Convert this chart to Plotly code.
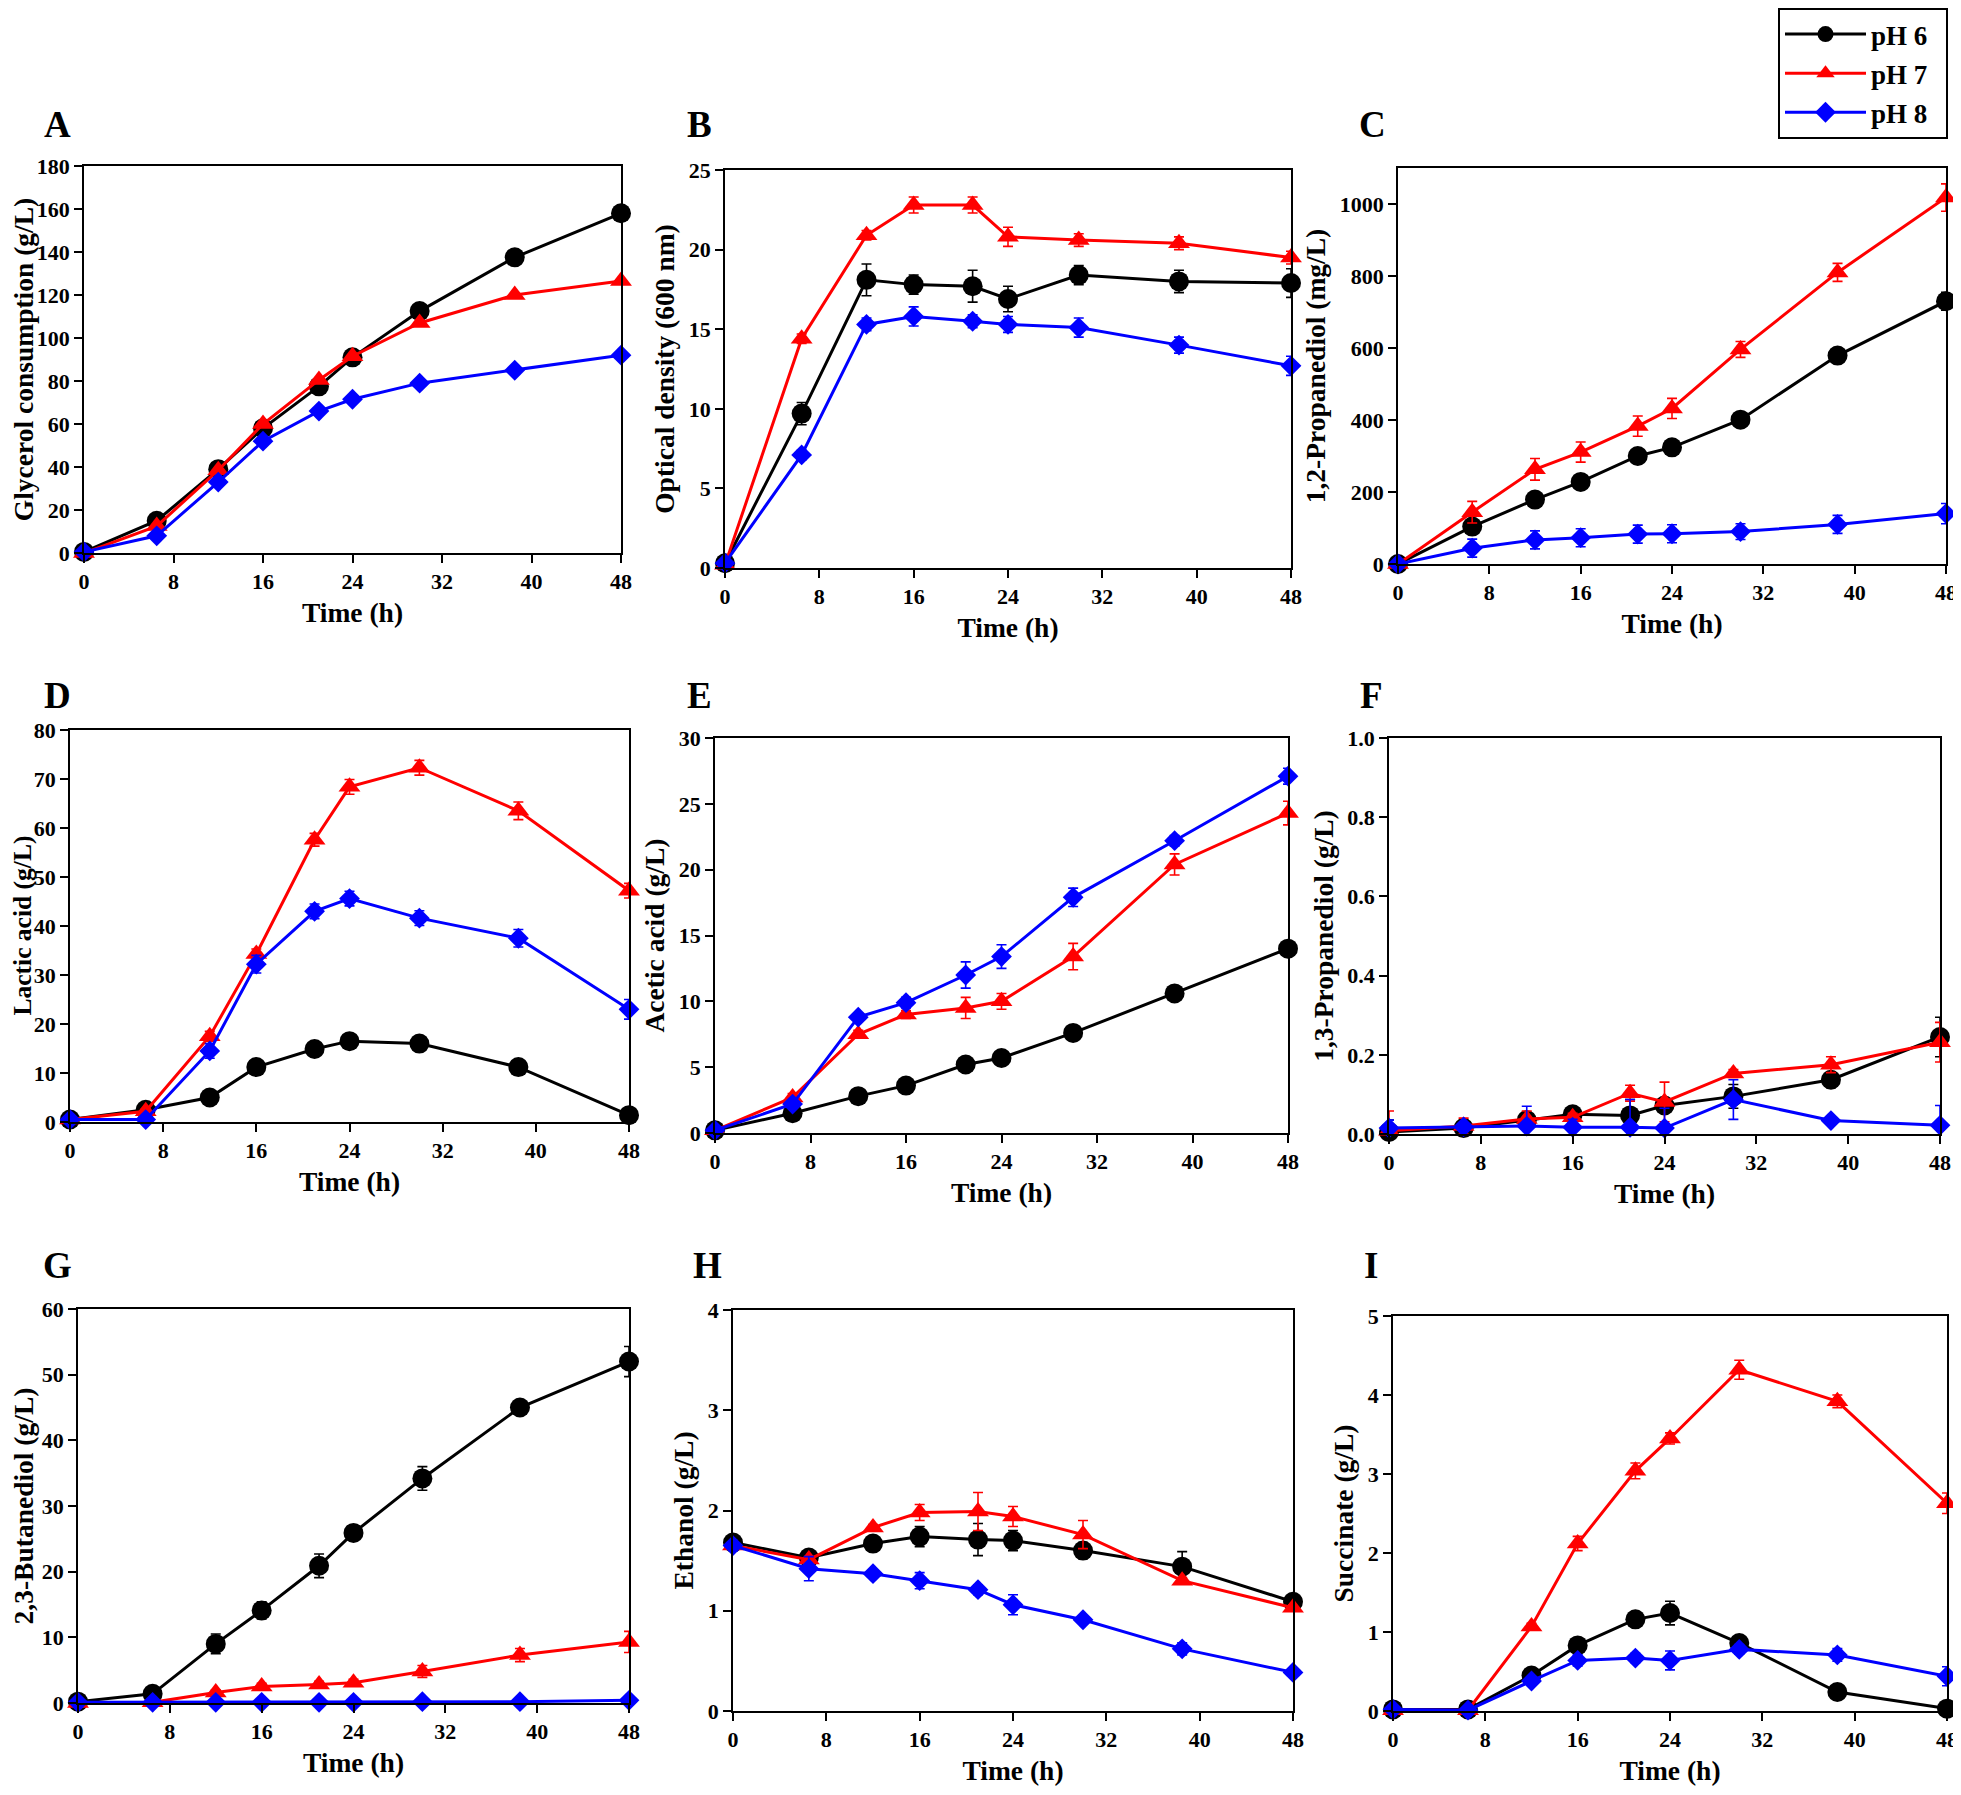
import plotly.graph_objects as go

# The page body has an 8px default margin, so the figure is drawn 8px in from the
# window's top-left corner; positions below are given in window pixels.
WIN_W, WIN_H = 1961, 1795
OFF = 8
W, H = WIN_W - OFF, WIN_H - OFF


def px_x(x):
    return (x - OFF) / W


def px_y(y):
    return 1 - (y - OFF) / H


time_h = [0, 6.5, 12, 16, 21, 24, 30, 38.5, 48]
series_names = ["pH 6", "pH 7", "pH 8"]
x_ticks = [0, 8, 16, 24, 32, 40, 48]

# A: glycerol consumption (g/L)
glyc_ph6 = [0.5, 15, 39, 58, 77.5, 91, 112.5, 137.5, 158]
glyc_ph7 = [0, 12.5, 38.5, 60, 80.5, 91.5, 107, 120, 126.5]
glyc_ph8 = [0.5, 8, 33, 52, 66, 71.5, 79, 85, 92]
glyc_err = [0, 0, 0, 0, 0, 0, 0, 0, 0]

# B: optical density
od_ph6 = [0.3, 9.7, 18.1, 17.8, 17.7, 16.9, 18.4, 18.0, 17.9]
od_ph6_err = [0.1, 0.7, 1.0, 0.6, 1.0, 0.8, 0.6, 0.7, 0.9]
od_ph7 = [0.2, 14.4, 20.9, 22.8, 22.8, 20.8, 20.6, 20.4, 19.5]
od_ph7_err = [0.1, 0.3, 0.3, 0.5, 0.5, 0.6, 0.4, 0.4, 0.4]
od_ph8 = [0.3, 7.1, 15.3, 15.8, 15.5, 15.3, 15.1, 14.0, 12.7]
od_ph8_err = [0.1, 0.3, 0.4, 0.6, 0.4, 0.5, 0.6, 0.5, 0.6]

# C: 1,2-propanediol (mg/L)
pdo12_ph6 = [0, 104, 179, 228, 300, 324, 401, 579, 730]
pdo12_ph6_err = [5, 20, 15, 15, 15, 15, 20, 20, 25]
pdo12_ph7 = [0, 144, 263, 311, 383, 432, 596, 810, 1018]
pdo12_ph7_err = [5, 30, 30, 28, 28, 28, 22, 25, 38]
pdo12_ph8 = [0, 44, 67, 73, 83, 84, 90, 110, 140]
pdo12_ph8_err = [5, 25, 25, 25, 25, 25, 22, 25, 28]

# D: lactic acid (g/L)
lac_ph6 = [0.5, 2.5, 5.0, 11.2, 14.9, 16.5, 16.0, 11.2, 1.4]
lac_ph6_err = [0.2, 0.2, 0.3, 0.3, 0.3, 0.3, 0.3, 0.3, 0.2]
lac_ph7 = [0.5, 2.2, 17.5, 34.3, 57.6, 68.4, 72.3, 63.5, 47.2]
lac_ph7_err = [0.3, 0.5, 1.0, 1.0, 1.3, 1.5, 1.5, 1.8, 1.5]
lac_ph8 = [0.5, 0.5, 14.5, 32.2, 43.0, 45.6, 41.6, 37.5, 23.0]
lac_ph8_err = [0.3, 0.3, 1.5, 1.8, 1.5, 1.5, 1.5, 1.8, 2.0]

# E: acetic acid (g/L)
ace_ph6 = [0.2, 1.5, 2.8, 3.6, 5.2, 5.7, 7.6, 10.6, 14.0]
ace_ph6_err = [0.1, 0.1, 0.1, 0.1, 0.1, 0.1, 0.2, 0.5, 0.2]
ace_ph7 = [0.2, 2.7, 7.5, 9.0, 9.5, 10.0, 13.4, 20.4, 24.3]
ace_ph7_err = [0.1, 0.3, 0.3, 0.3, 0.8, 0.6, 1.0, 0.8, 0.9]
ace_ph8 = [0.2, 2.2, 8.8, 9.9, 12.0, 13.4, 17.9, 22.2, 27.1]
ace_ph8_err = [0.1, 0.3, 0.3, 0.4, 1.0, 0.9, 0.7, 0.4, 0.6]

# F: 1,3-propanediol (g/L)
pdo13_ph6 = [0.005, 0.015, 0.035, 0.05, 0.047, 0.072, 0.095, 0.137, 0.245]
pdo13_ph6_err = [0.03, 0.02, 0.02, 0.01, 0.04, 0.01, 0.03, 0.02, 0.05]
pdo13_ph7 = [0.008, 0.02, 0.038, 0.042, 0.103, 0.081, 0.153, 0.175, 0.232]
pdo13_ph7_err = [0.05, 0.02, 0.02, 0.01, 0.02, 0.05, 0.01, 0.02, 0.05]
pdo13_ph8 = [0.015, 0.018, 0.02, 0.017, 0.017, 0.015, 0.087, 0.034, 0.022]
pdo13_ph8_err = [0.02, 0.01, 0.05, 0.02, 0.07, 0.05, 0.05, 0.01, 0.05]

# G: 2,3-butanediol (g/L)
bdo_ph6 = [0.2, 1.4, 9.0, 14.1, 20.9, 25.9, 34.2, 45.0, 52.0]
bdo_ph6_err = [0.1, 0.3, 1.5, 1.3, 1.8, 0.8, 1.8, 0.8, 2.3]
bdo_ph7 = [0, 0.1, 1.6, 2.5, 2.8, 3.1, 4.8, 7.3, 9.3]
bdo_ph7_err = [0, 0, 0.4, 0.5, 0.5, 0.5, 0.9, 1.0, 1.6]
bdo_ph8 = [0.1, 0.1, 0.1, 0.1, 0.1, 0.1, 0.2, 0.2, 0.4]
bdo_ph8_err = [0, 0, 0, 0, 0, 0, 0, 0, 0.1]

# H: ethanol (g/L)
eth_ph6 = [1.68, 1.53, 1.67, 1.74, 1.71, 1.70, 1.60, 1.44, 1.09]
eth_ph6_err = [0.06, 0.06, 0.03, 0.1, 0.16, 0.1, 0.08, 0.15, 0.05]
eth_ph7 = [1.65, 1.51, 1.83, 1.98, 1.99, 1.94, 1.76, 1.30, 1.03]
eth_ph7_err = [0.04, 0.03, 0.03, 0.08, 0.19, 0.1, 0.14, 0.03, 0.03]
eth_ph8 = [1.65, 1.42, 1.37, 1.30, 1.21, 1.06, 0.91, 0.62, 0.385]
eth_ph8_err = [0.05, 0.12, 0.03, 0.08, 0.05, 0.1, 0.03, 0.06, 0.03]

# I: succinate (g/L)
suc_ph6 = [0.02, 0.02, 0.45, 0.83, 1.16, 1.24, 0.86, 0.24, 0.03]
suc_ph6_err = [0, 0, 0.03, 0.05, 0.05, 0.15, 0.05, 0.03, 0.02]
suc_ph7 = [0.01, 0.01, 1.07, 2.12, 3.04, 3.45, 4.32, 3.92, 2.63]
suc_ph7_err = [0, 0, 0.04, 0.09, 0.1, 0.07, 0.12, 0.08, 0.13]
suc_ph8 = [0.02, 0.01, 0.38, 0.64, 0.67, 0.64, 0.78, 0.71, 0.44]
suc_ph8_err = [0, 0, 0.04, 0.07, 0.06, 0.12, 0.06, 0.08, 0.12]

panels = [
    # letter, ytitle, series, errors, yrange, ytickvals, tickformat, box (L, R, T, B) px,
    # letter centre (x, y) px, y-title centre x px (None = automatic axis title)
    ("A", "Glycerol consumption (g/L)", [glyc_ph6, glyc_ph7, glyc_ph8], [glyc_err, glyc_err, glyc_err],
     [0, 180], list(range(0, 181, 20)), None, (84, 621, 166, 553), (57, 125), None),
    ("B", "Optical density (600 nm)", [od_ph6, od_ph7, od_ph8], [od_ph6_err, od_ph7_err, od_ph8_err],
     [0, 25], list(range(0, 26, 5)), None, (725, 1291, 170, 568), (699, 125), None),
    ("C", "1,2-Propanediol (mg/L)", [pdo12_ph6, pdo12_ph7, pdo12_ph8], [pdo12_ph6_err, pdo12_ph7_err, pdo12_ph8_err],
     [0, 1100], list(range(0, 1001, 200)), None, (1398, 1946, 168, 564), (1372, 125), None),
    ("D", "Lactic acid (g/L)", [lac_ph6, lac_ph7, lac_ph8], [lac_ph6_err, lac_ph7_err, lac_ph8_err],
     [0, 80], list(range(0, 81, 10)), None, (70, 629, 730, 1122), (57, 695), 22.5),
    ("E", "Acetic acid (g/L)", [ace_ph6, ace_ph7, ace_ph8], [ace_ph6_err, ace_ph7_err, ace_ph8_err],
     [0, 30], list(range(0, 31, 5)), None, (715, 1288, 738, 1133), (699, 695), None),
    ("F", "1,3-Propanediol (g/L)", [pdo13_ph6, pdo13_ph7, pdo13_ph8], [pdo13_ph6_err, pdo13_ph7_err, pdo13_ph8_err],
     [0, 1.0], [0, 0.2, 0.4, 0.6, 0.8, 1.0], ".1f", (1389, 1940, 738, 1134), (1371, 695), None),
    ("G", "2,3-Butanediol (g/L)", [bdo_ph6, bdo_ph7, bdo_ph8], [bdo_ph6_err, bdo_ph7_err, bdo_ph8_err],
     [0, 60], list(range(0, 61, 10)), None, (78, 629, 1309, 1703), (57, 1265), None),
    ("H", "Ethanol (g/L)", [eth_ph6, eth_ph7, eth_ph8], [eth_ph6_err, eth_ph7_err, eth_ph8_err],
     [0, 4], [0, 1, 2, 3, 4], None, (733, 1293, 1310, 1711), (707, 1265), None),
    ("I", "Succinate (g/L)", [suc_ph6, suc_ph7, suc_ph8], [suc_ph6_err, suc_ph7_err, suc_ph8_err],
     [0, 5], [0, 1, 2, 3, 4, 5], None, (1393, 1947, 1316, 1711), (1371, 1265), None),
]

colors = ["#000000", "#ff0000", "#0000ff"]
symbols = ["circle", "triangle-up", "diamond"]
msizes = [20, 19, 16]
FONT = "Liberation Serif, Times New Roman, serif"
TITLE_FONT = dict(family=FONT, size=27.5, color="black", weight="bold")

fig = go.Figure()
layout = dict(
    width=W, height=H,
    margin=dict(l=0, r=0, t=0, b=0),
    paper_bgcolor="white", plot_bgcolor="white",
    font=dict(family=FONT, size=22, color="black", weight="bold"),
    showlegend=True,
    legend=dict(
        x=px_x(1778), y=1.0, xanchor="left", yanchor="top",
        bordercolor="black", borderwidth=2, bgcolor="white",
        font=dict(family=FONT, size=27, color="black", weight="bold"),
        itemwidth=81, tracegroupgap=1,
    ),
    annotations=[],
)

for i, (letter, ytitle, series, errs, yr, ytv, tfmt, box, lpos, ytx) in enumerate(panels):
    L, R, T, B = box
    n = "" if i == 0 else str(i + 1)
    xa, ya = "x" + n, "y" + n
    for k in range(3):
        fig.add_trace(go.Scatter(
            x=time_h, y=series[k], xaxis=xa, yaxis=ya,
            mode="lines+markers", name=series_names[k] + "\u00a0\u00a0",
            legendgroup=series_names[k], showlegend=(i == 0),
            line=dict(color=colors[k], width=3),
            marker=dict(symbol=symbols[k], size=msizes[k], color=colors[k],
                        line=dict(width=0)),
            error_y=dict(type="data", array=errs[k], color=colors[k],
                         thickness=1.6, width=5),
            cliponaxis=False,
        ))
    axis_common = dict(
        showline=True, linecolor="black", linewidth=1.6, mirror=True,
        ticks="outside", ticklen=8, tickwidth=1.6, tickcolor="black",
        showgrid=False, zeroline=False, automargin=False,
        tickfont=dict(family=FONT, size=22, color="black", weight="bold"),
    )
    layout["xaxis" + n] = dict(
        axis_common, domain=[px_x(L), px_x(R)], anchor=ya, range=[0, 48],
        tickvals=x_ticks,
        title=dict(text="Time (h)", standoff=10, font=TITLE_FONT),
    )
    yax = dict(
        axis_common, domain=[px_y(B), px_y(T)], anchor=xa, range=yr,
        tickvals=ytv,
    )
    if ytx is None:
        yax["title"] = dict(text=ytitle, standoff=6, font=TITLE_FONT)
    else:
        # title placed as an annotation so it sits beside (not on) the tick labels
        layout["annotations"].append(dict(
            text=ytitle, xref="paper", yref="paper",
            x=px_x(ytx), y=px_y((T + B) / 2), textangle=-90,
            xanchor="center", yanchor="middle", showarrow=False,
            font=dict(TITLE_FONT, size=25.5),
        ))
    if tfmt:
        yax["tickformat"] = tfmt
    layout["yaxis" + n] = yax
    layout["annotations"].append(dict(
        text=letter, xref="paper", yref="paper", x=px_x(lpos[0]), y=px_y(lpos[1]),
        xanchor="center", yanchor="middle", showarrow=False,
        font=dict(family=FONT, size=37, color="black", weight="bold"),
    ))

fig.update_layout(**layout)
fig.write_html("out.html")
